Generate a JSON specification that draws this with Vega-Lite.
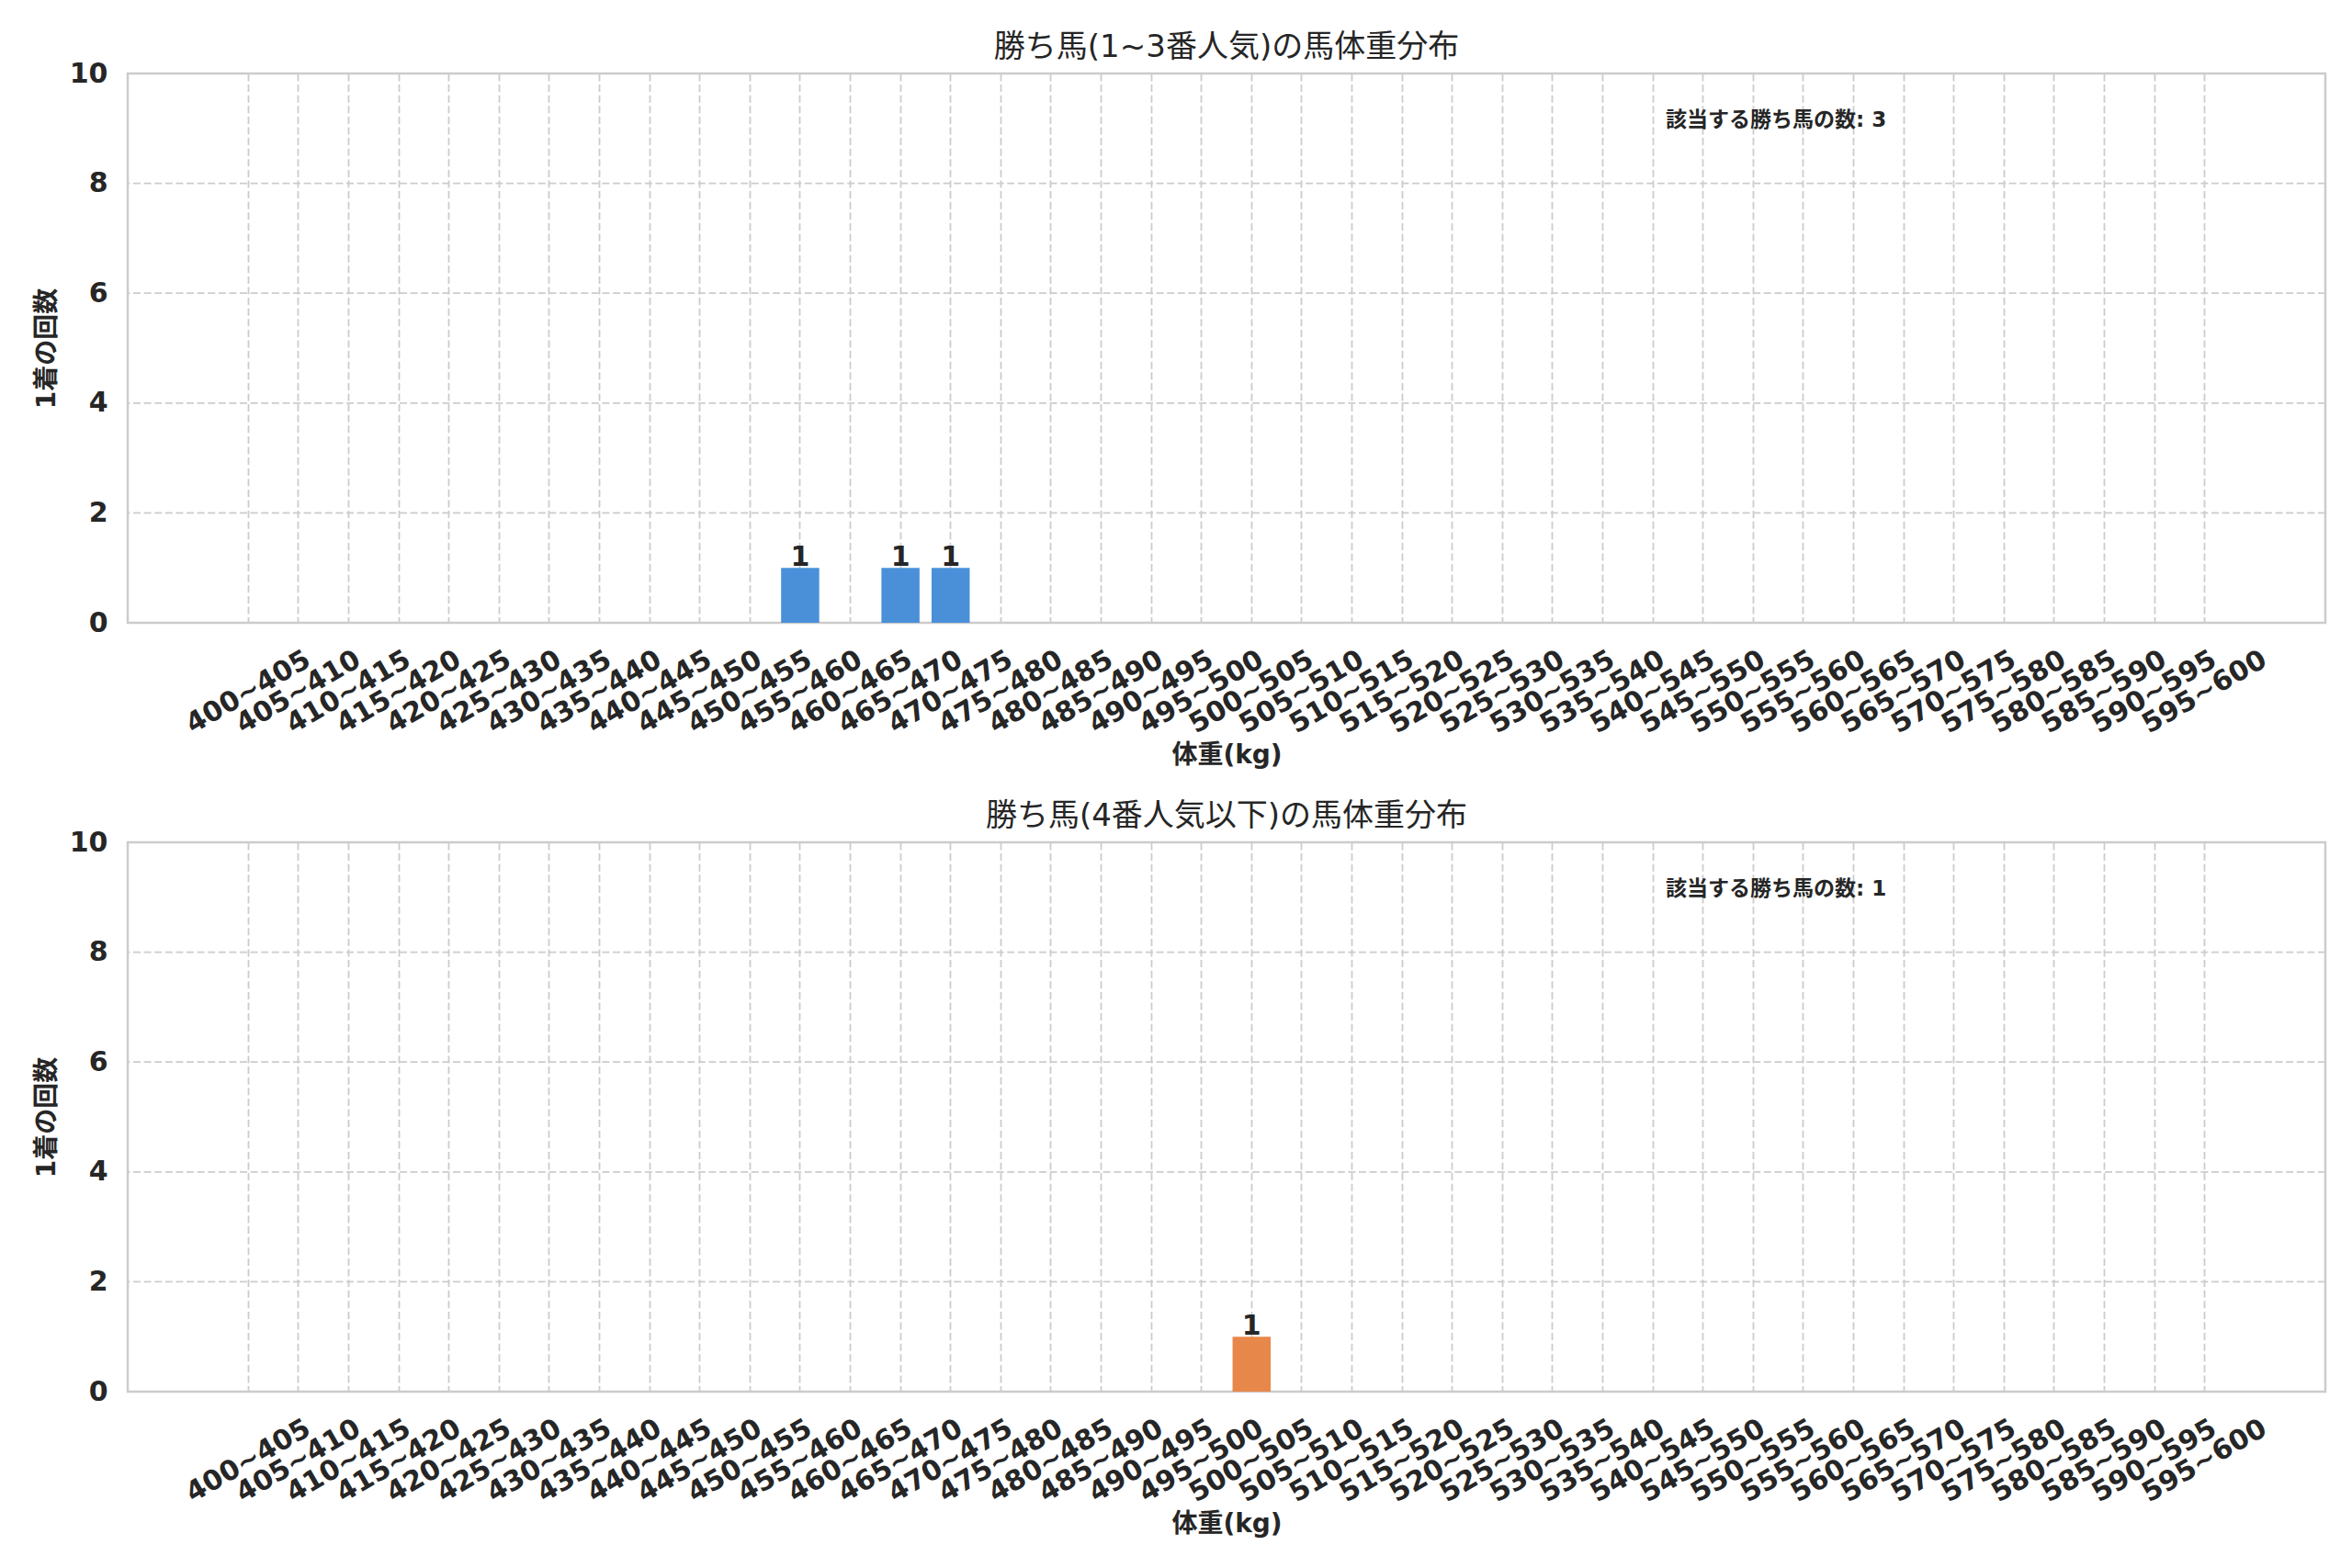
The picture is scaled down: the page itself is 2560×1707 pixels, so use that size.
{
  "$schema": "https://vega.github.io/schema/vega-lite/v6.json",
  "padding": {"left": 36, "top": 33, "right": 30, "bottom": 10},
  "background": "white",
  "spacing": 32,
  "datasets": {
    "top": [
      {"bin": "455~460", "count": 1},
      {"bin": "465~470", "count": 1},
      {"bin": "470~475", "count": 1}
    ],
    "bottom": [
      {"bin": "500~505", "count": 1}
    ],
    "grid": [{"g": 2}, {"g": 4}, {"g": 6}, {"g": 8}]
  },
  "config": {
    "font": "DejaVu Sans, Noto Sans CJK JP",
    "view": {"stroke": "#cccccc", "strokeWidth": 2.5},
    "axis": {
      "labelFont": "DejaVu Sans, Noto Sans CJK JP",
      "titleFont": "DejaVu Sans, Noto Sans CJK JP",
      "labelFontSize": 30,
      "labelFontWeight": "bold",
      "labelColor": "#262626",
      "titleFontSize": 28,
      "titleFontWeight": "bold",
      "titleColor": "#262626",
      "domain": false,
      "ticks": false,
      "tickSize": 0,
      "gridColor": "#cccccc",
      "gridDash": [8, 3.6],
      "gridWidth": 1.8
    },
    "title": {"fontSize": 34, "fontWeight": "normal", "color": "#262626", "offset": -4, "font": "DejaVu Sans, Noto Sans CJK JP"}
  },
  "vconcat": [
    {
      "title": "勝ち馬(1~3番人気)の馬体重分布",
      "width": 2392,
      "height": 598,
      "data": {"name": "top"},
      "encoding": {
        "x": {
          "field": "bin",
          "type": "ordinal",
          "title": "体重(kg)",
          "scale": {
            "domain": ["400~405","405~410","410~415","415~420","420~425","425~430","430~435","435~440","440~445","445~450","450~455","455~460","460~465","465~470","470~475","475~480","480~485","485~490","490~495","495~500","500~505","505~510","510~515","515~520","520~525","525~530","530~535","535~540","540~545","545~550","550~555","555~560","560~565","565~570","570~575","575~580","580~585","585~590","590~595","595~600"],
            "range": [56, 2336],
            "paddingInner": 0.24,
            "paddingOuter": 1
          },
          "axis": {"labelAngle": -30, "labelAlign": "center", "labelBaseline": "middle", "labelPadding": 75, "labelOverlap": false, "titlePadding": 5, "grid": true}
        },
        "y": {
          "field": "count",
          "type": "quantitative",
          "title": "1着の回数",
          "scale": {"domain": [0, 10], "nice": false},
          "axis": {"values": [0, 2, 4, 6, 8, 10], "labelPadding": 22, "titlePadding": 10, "grid": false}
        }
      },
      "layer": [
        {
          "data": {"name": "grid"},
          "mark": {"type": "rule", "color": "#cccccc", "strokeWidth": 1.8, "strokeDash": [8, 3.6]},
          "encoding": {
            "x": null,
            "y": {"field": "g", "type": "quantitative", "title": "1着の回数"}
          }
        },
        {"mark": {"type": "bar", "color": "#4A90D9"}},
        {
          "mark": {"type": "text", "baseline": "alphabetic", "dy": -2, "fontSize": 30, "fontWeight": "bold", "color": "#262626"},
          "encoding": {"text": {"field": "count", "type": "quantitative"}}
        },
        {
          "transform": [
            {"aggregate": [{"op": "sum", "field": "count", "as": "total"}]},
            {"calculate": "'該当する勝ち馬の数: ' + datum.total", "as": "note"},
            {"calculate": "9.15", "as": "count"}
          ],
          "mark": {"type": "text", "align": "left", "baseline": "middle", "dx": 14, "fontSize": 23, "fontWeight": "bold", "color": "#262626"},
          "encoding": {
            "x": {"datum": "540~545"},
            "text": {"field": "note", "type": "nominal"}
          }
        }
      ]
    },
    {
      "title": "勝ち馬(4番人気以下)の馬体重分布",
      "width": 2392,
      "height": 598,
      "data": {"name": "bottom"},
      "encoding": {
        "x": {
          "field": "bin",
          "type": "ordinal",
          "title": "体重(kg)",
          "scale": {
            "domain": ["400~405","405~410","410~415","415~420","420~425","425~430","430~435","435~440","440~445","445~450","450~455","455~460","460~465","465~470","470~475","475~480","480~485","485~490","490~495","495~500","500~505","505~510","510~515","515~520","520~525","525~530","530~535","535~540","540~545","545~550","550~555","555~560","560~565","565~570","570~575","575~580","580~585","585~590","590~595","595~600"],
            "range": [56, 2336],
            "paddingInner": 0.24,
            "paddingOuter": 1
          },
          "axis": {"labelAngle": -30, "labelAlign": "center", "labelBaseline": "middle", "labelPadding": 75, "labelOverlap": false, "titlePadding": 5, "grid": true}
        },
        "y": {
          "field": "count",
          "type": "quantitative",
          "title": "1着の回数",
          "scale": {"domain": [0, 10], "nice": false},
          "axis": {"values": [0, 2, 4, 6, 8, 10], "labelPadding": 22, "titlePadding": 10, "grid": false}
        }
      },
      "layer": [
        {
          "data": {"name": "grid"},
          "mark": {"type": "rule", "color": "#cccccc", "strokeWidth": 1.8, "strokeDash": [8, 3.6]},
          "encoding": {
            "x": null,
            "y": {"field": "g", "type": "quantitative", "title": "1着の回数"}
          }
        },
        {"mark": {"type": "bar", "color": "#E8874A"}},
        {
          "mark": {"type": "text", "baseline": "alphabetic", "dy": -2, "fontSize": 30, "fontWeight": "bold", "color": "#262626"},
          "encoding": {"text": {"field": "count", "type": "quantitative"}}
        },
        {
          "transform": [
            {"aggregate": [{"op": "sum", "field": "count", "as": "total"}]},
            {"calculate": "'該当する勝ち馬の数: ' + datum.total", "as": "note"},
            {"calculate": "9.15", "as": "count"}
          ],
          "mark": {"type": "text", "align": "left", "baseline": "middle", "dx": 14, "fontSize": 23, "fontWeight": "bold", "color": "#262626"},
          "encoding": {
            "x": {"datum": "540~545"},
            "text": {"field": "note", "type": "nominal"}
          }
        }
      ]
    }
  ]
}
